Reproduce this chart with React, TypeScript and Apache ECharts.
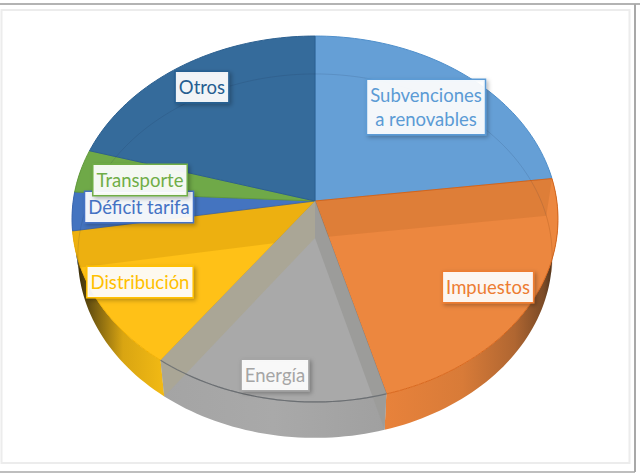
import React, { useEffect, useRef } from "react";
import * as echarts from "echarts";

const categories = ["Subvenciones\na renovables", "Impuestos", "Energía", "Distribución", "Déficit tarifa", "Transporte", "Otros"];
const values = [23.0, 22.7, 14.3, 12.4, 3.4, 3.8, 20.4];
const faceColors = ["#659fd6", "#ec873f", "#a9a9a9", "#ffc117", "#4474c0", "#6fa948", "#356b9b"];
const edgeColors = ["#4f8fcb", "#d9671c", "#8b8b8b", "#f2b000", "#3a66b0", "#62993d", "#2c6090"];
const textColors = ["#5b9bd5", "#ed7d31", "#a5a5a5", "#ffc000", "#4472c4", "#70ad47", "#255e91"];
// the wall lying under the boundary at the END angle of each slice
const endWallOverlays = ["rgba(170,90,30,0.2)", "#9c9c9a", "#aaa696", "rgba(195,140,0,0.3)", "rgba(0,0,0,0)", "rgba(0,0,0,0)", "rgba(30,60,110,0.25)"];
const wallOrder = [1, 2, 2, 1, 1, 1, 3];
const sideStops: Record<number, [number, string][]> = {
  1: [[0, "#e8823b"], [0.45, "#d87b38"], [0.75, "#b06631"], [0.92, "#7a4a26"], [1, "#2f2416"]],
  2: [[0, "#a4a4a4"], [0.5, "#a9a9a9"], [1, "#a0a0a0"]],
  3: [[0, "#241d08"], [0.2, "#6b5410"], [0.55, "#d9a512"], [1, "#f2ba14"]],
};
const labelBoxes = [
  { cx: 426, cy: 107 },
  { cx: 488, cy: 287 },
  { cx: 275, cy: 375 },
  { cx: 140, cy: 282 },
  { cx: 139, cy: 207 },
  { cx: 140, cy: 180 },
  { cx: 202, cy: 87 },
];

const total = values.reduce((a, b) => a + b, 0);
const rows: number[][] = [];
{
  let acc = 0;
  values.forEach((v, i) => {
    rows.push([(acc / total) * 360, ((acc + v) / total) * 360, i]);
    acc += v;
  });
}

const PERSP = 0.0984;
const TOP = { cx: 315, cy: 201, R: 241.8, S: 181.2 };
const BOTTOM = { cx: 315, cy: 238, R: 236, S: 180.2 };

function project(deg: number, r: number, f: typeof TOP): number[] {
  const a = (deg * Math.PI) / 180;
  const u = Math.sin(a) * r;
  const w = -Math.cos(a) * r;
  const d = 1 - PERSP * w;
  return [f.cx + (f.R * u) / d, f.cy + (f.S * w) / d];
}
function arc(from: number, to: number, f: typeof TOP): number[][] {
  const pts: number[][] = [];
  const n = Math.max(2, Math.ceil(Math.abs(to - from) / 1.5));
  for (let i = 0; i <= n; i++) pts.push(project(from + ((to - from) * i) / n, 1, f));
  return pts;
}

const baseSeries = {
  type: "custom",
  coordinateSystem: "none",
  silent: true,
  data: rows,
  animation: false,
  clip: false,
};

export default function App() {
  const ref = useRef<HTMLDivElement>(null);
  useEffect(() => {
    document.body.style.margin = "0";
    document.body.style.background = "#fff";
    const chart = echarts.init(ref.current!, undefined, { renderer: "svg" });
    chart.setOption({
      animation: false,
      backgroundColor: "#ffffff",
      graphic: [
        { type: "line", z: 0, shape: { x1: 0, y1: 4, x2: 640, y2: 4 }, style: { stroke: "#9a9a9a", lineWidth: 1.5 } },
        { type: "line", z: 0, shape: { x1: 635, y1: 4, x2: 635, y2: 472 }, style: { stroke: "#a8a8a8", lineWidth: 2 } },
        { type: "line", z: 0, shape: { x1: 0, y1: 472, x2: 635, y2: 472 }, style: { stroke: "#a8a8a8", lineWidth: 1.5 } },
        { type: "rect", z: 0, shape: { x: 1.5, y: 10, width: 628, height: 453 }, style: { fill: "#ffffff", stroke: "#ececec", lineWidth: 2 } },
      ],
      series: [
        // outer front wall
        {
          ...baseSeries,
          z: 2,
          renderItem: (_p: any, api: any) => {
            const i = api.value(2);
            const s = Math.max(api.value(0), 80);
            const e = Math.min(api.value(1), 280);
            if (e <= s) return { type: "group", children: [] };
            const stops = sideStops[i] || [[0, faceColors[i]], [1, faceColors[i]]];
            const pts = [...arc(s, e, TOP), ...arc(e, s, BOTTOM)];
            return {
              type: "polygon",
              shape: { points: pts },
              style: {
                fill: new echarts.graphic.LinearGradient(0, 0, 1, 0, stops.map(([offset, color]) => ({ offset, color }))),
                stroke: "none",
              },
            };
          },
        },
        // top faces
        {
          ...baseSeries,
          z: 3,
          renderItem: (_p: any, api: any) => {
            const i = api.value(2);
            const pts = [project(0, 0, TOP), ...arc(api.value(0), api.value(1), TOP)];
            return {
              type: "polygon",
              shape: { points: pts },
              style: { fill: faceColors[i], stroke: edgeColors[i], lineWidth: 1, lineJoin: "round" },
            };
          },
        },
        // radial walls seen through the translucent faces
        {
          ...baseSeries,
          z: 4,
          renderItem: (_p: any, api: any) => {
            const i = api.value(2);
            const e = api.value(1);
            const rim = project(e, 1, TOP);
            const low = project(e, 1, BOTTOM);
            return {
              type: "polygon",
              z2: wallOrder[i],
              shape: { points: [project(0, 0, TOP), rim, low, project(0, 0, BOTTOM)] },
              style: { fill: endWallOverlays[i], stroke: "none" },
            };
          },
        },
        // bottom rim seen through the faces, and front rim line
        {
          ...baseSeries,
          z: 5,
          renderItem: (_p: any, api: any) => {
            const i = api.value(2);
            const a = api.value(0);
            const b = api.value(1);
            const children: any[] = [];
            if (i === 0 || i >= 4) {
              children.push({
                type: "polyline",
                shape: { points: arc(a, b, BOTTOM) },
                style: { fill: "none", stroke: "rgba(20,40,70,0.13)", lineWidth: 1 },
              });
            }
            if (i === 1) {
              children.push({
                type: "polyline",
                shape: { points: arc(a, a + 18, BOTTOM) },
                style: { fill: "none", stroke: "rgba(150,75,20,0.25)", lineWidth: 1 },
              });
            }
            if (i === 2) {
              children.push({
                type: "polyline",
                shape: { points: arc(a, b, TOP) },
                style: { fill: "none", stroke: "rgba(95,100,105,0.75)", lineWidth: 1.2 },
              });
            }
            return { type: "group", children };
          },
        },
        // labels
        {
          ...baseSeries,
          z: 6,
          renderItem: (_p: any, api: any) => {
            const i = api.value(2);
            const box = labelBoxes[i];
            return {
              type: "text",
              z2: i === 5 ? 20 : 10,
              style: {
                x: box.cx,
                y: box.cy,
                text: categories[i],
                align: "center",
                verticalAlign: "middle",
                fontFamily: "Lato",
                fontSize: 18.5,
                lineHeight: 24,
                fill: textColors[i],
                backgroundColor: "rgba(255,255,255,0.92)",
                borderColor: textColors[i],
                borderWidth: 1.5,
                padding: [3, 3, 3, 3],
                shadowColor: "rgba(0,0,0,0.28)",
                shadowBlur: 4,
                shadowOffsetX: 2,
                shadowOffsetY: 2,
              },
            };
          },
        },
      ],
    });
    return () => chart.dispose();
  }, []);
  return <div ref={ref} style={{ width: 640, height: 476 }} />;
}
